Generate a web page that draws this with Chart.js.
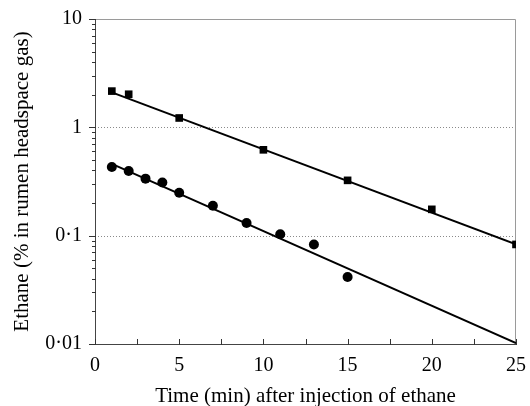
<!DOCTYPE html>
<html>
<head>
<meta charset="utf-8">
<script src="https://cdn.jsdelivr.net/npm/chart.js@4/dist/chart.umd.min.js"></script>
<style>
  html, body { margin: 0; background: #fff; }
  #wrap { width: 530px; height: 406px; }
</style>
</head>
<body>
<div id="wrap"><canvas id="chart"></canvas></div>
<script>
// measured points (% ethane in rumen headspace gas)
const squareTimes = [1, 2, 5, 10, 15, 20, 25];
const squareValues = [2.16, 2.02, 1.22, 0.62, 0.324, 0.175, 0.083];
const circleTimes = [1, 2, 3, 4, 5, 7, 9, 11, 13, 15];
const circleValues = [0.43, 0.395, 0.336, 0.309, 0.249, 0.189, 0.131, 0.103, 0.083, 0.0416];

// fitted regression lines (end points)
const squareFitTimes = [1, 25];
const squareFitValues = [2.1, 0.083];
const circleFitTimes = [1, 25];
const circleFitValues = [0.46, 0.0102];

// axes
const xTickValues = [0, 2.5, 5, 7.5, 10, 12.5, 15, 17.5, 20, 22.5, 25];
const xTickLabels = ['0', '', '5', '', '10', '', '15', '', '20', '', '25'];
const yMajorTicks = [0.01, 0.1, 1, 10];
const yTickLabels = ['0·01', '0·1', '1', '10'];
const yGridValues = [0.1, 1];

const pts = (xs, ys) => xs.map((x, i) => ({ x: x, y: ys[i] }));

// log minor ticks 2..9 in each decade
const yMinorTicks = [];
for (let d = 0; d < yMajorTicks.length - 1; d++) {
  for (let m = 2; m <= 9; m++) yMinorTicks.push(m * yMajorTicks[d]);
}

const frame = {
  id: 'frame',
  beforeDatasetsDraw(chart) {
    const { ctx, chartArea: a, scales: { x, y } } = chart;
    ctx.save();
    // dotted grid lines
    ctx.strokeStyle = '#8a8a8a';
    ctx.lineWidth = 1;
    ctx.setLineDash([1, 2]);
    ctx.beginPath();
    yGridValues.forEach(v => {
      const py = Math.round(y.getPixelForValue(v)) + 0.5;
      ctx.moveTo(a.left, py);
      ctx.lineTo(a.right, py);
    });
    ctx.stroke();
    ctx.setLineDash([]);
    // top and right border
    ctx.strokeStyle = '#9a9a9a';
    ctx.beginPath();
    ctx.moveTo(a.left, a.top + 0.5);
    ctx.lineTo(a.right - 0.5, a.top + 0.5);
    ctx.lineTo(a.right - 0.5, a.bottom);
    ctx.stroke();
    // tick marks
    ctx.strokeStyle = '#333';
    ctx.beginPath();
    yMajorTicks.forEach(v => {
      const py = Math.round(y.getPixelForValue(v)) + 0.5;
      ctx.moveTo(a.left - 6, py);
      ctx.lineTo(a.left + 1, py);
    });
    yMinorTicks.forEach(v => {
      const py = Math.round(y.getPixelForValue(v)) + 0.5;
      ctx.moveTo(a.left - 3, py);
      ctx.lineTo(a.left + 1, py);
    });
    xTickValues.forEach(v => {
      const px = Math.round(x.getPixelForValue(v)) + 0.5;
      ctx.moveTo(px, a.bottom + 1);
      ctx.lineTo(px, a.bottom - 5);
    });
    ctx.stroke();
    ctx.restore();
  }
};

new Chart(document.getElementById('chart'), {
  type: 'scatter',
  data: {
    datasets: [
      {
        data: pts(squareFitTimes, squareFitValues),
        showLine: true, borderColor: '#000', borderWidth: 2, pointRadius: 0
      },
      {
        data: pts(circleFitTimes, circleFitValues),
        showLine: true, borderColor: '#000', borderWidth: 2, pointRadius: 0
      },
      {
        data: pts(squareTimes, squareValues),
        pointStyle: 'rect', pointRadius: 5.4, backgroundColor: '#000', borderColor: '#000', borderWidth: 0
      },
      {
        data: pts(circleTimes, circleValues),
        pointStyle: 'circle', pointRadius: 5, backgroundColor: '#000', borderColor: '#000', borderWidth: 0
      }
    ]
  },
  options: {
    responsive: true,
    maintainAspectRatio: false,
    animation: false,
    layout: { padding: { left: 0, right: 14, top: 19, bottom: 0 } },
    plugins: { legend: { display: false }, tooltip: { enabled: false } },
    scales: {
      x: {
        type: 'linear',
        min: 0,
        max: 25,
        afterBuildTicks: s => { s.ticks = xTickValues.map(v => ({ value: v })); },
        afterFit: s => { s.height = 62; s.paddingLeft = 0; s.paddingRight = 0; },
        grid: { display: false, drawTicks: false },
        border: { display: true, color: '#444', width: 1 },
        ticks: {
          autoSkip: false,
          maxRotation: 0,
          padding: 10,
          color: '#000',
          font: { family: 'Liberation Serif', size: 20 },
          callback: (v, i) => xTickLabels[i]
        },
        title: {
          display: true,
          text: 'Time (min) after injection of ethane',
          color: '#000',
          font: { family: 'Liberation Serif', size: 21, lineHeight: 0.86 },
          padding: 0
        }
      },
      y: {
        type: 'logarithmic',
        min: 0.01,
        max: 10,
        afterBuildTicks: s => { s.ticks = yMajorTicks.map(v => ({ value: v })); },
        afterFit: s => { s.width = 95; s.paddingTop = 0; s.paddingBottom = 0; },
        grid: { display: false, drawTicks: false },
        border: { display: true, color: '#444', width: 1 },
        ticks: {
          autoSkip: false,
          padding: 13,
          color: '#000',
          font: { family: 'Liberation Serif', size: 20 },
          callback: (v, i) => yTickLabels[i]
        },
        title: {
          display: true,
          text: 'Ethane (% in rumen headspace gas)',
          color: '#000',
          font: { family: 'Liberation Serif', size: 21, lineHeight: 1 },
          padding: { top: 12, bottom: 0 }
        }
      }
    }
  },
  plugins: [frame]
});
</script>
</body>
</html>
